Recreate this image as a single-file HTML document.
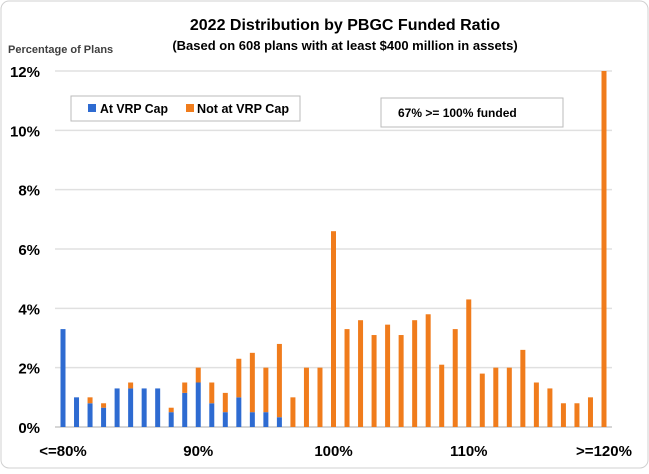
<!DOCTYPE html>
<html><head><meta charset="utf-8"><style>
body{margin:0;background:#fff;font-family:"Liberation Sans",sans-serif}
</style></head><body>
<svg width="649" height="469" xmlns="http://www.w3.org/2000/svg" font-family="Liberation Sans, sans-serif">
<rect x="1" y="1" width="647" height="467" rx="8" fill="#fff" stroke="#d0d0d0"/>
<text x="345" y="30" text-anchor="middle" font-size="16" font-weight="bold" fill="#000">2022 Distribution by PBGC Funded Ratio</text>
<text x="345" y="50" text-anchor="middle" font-size="13" font-weight="bold" fill="#000">(Based on 608 plans with at least $400 million in assets)</text>
<text x="8" y="53" font-size="11" font-weight="bold" fill="#404040">Percentage of Plans</text>
<g id="grid"></g><g id="bars"></g><g id="labels"></g>
<g>
<rect x="71" y="96" width="229" height="25" fill="#fff" stroke="#bbb"/>
<rect x="88" y="104" width="8" height="8" fill="#2e6bd1"/>
<text x="100" y="113" font-size="13" font-weight="bold" fill="#000" textLength="68" lengthAdjust="spacingAndGlyphs">At VRP Cap</text>
<rect x="186" y="104" width="8" height="8" fill="#f07c1c"/>
<text x="197" y="113" font-size="13" font-weight="bold" fill="#000" textLength="92" lengthAdjust="spacingAndGlyphs">Not at VRP Cap</text>
</g>
<rect x="381" y="98" width="182" height="29" fill="#fff" stroke="#bbb"/>
<text x="398" y="117" font-size="12" font-weight="bold" fill="#000">67% &gt;= 100% funded</text>
</svg>
<script>
const categories=["<=80%","81%","82%","83%","84%","85%","86%","87%","88%","89%","90%","91%","92%","93%","94%","95%","96%","97%","98%","99%","100%","101%","102%","103%","104%","105%","106%","107%","108%","109%","110%","111%","112%","113%","114%","115%","116%","117%","118%","119%",">=120%"];
const atCap=[3.3,1.0,0.8,0.65,1.3,1.3,1.3,1.3,0.5,1.15,1.5,0.8,0.5,1.0,0.5,0.5,0.33,0,0,0,0,0,0,0,0,0,0,0,0,0,0,0,0,0,0,0,0,0,0,0,0];
const notAtCap=[0,0,0.2,0.15,0,0.2,0,0,0.15,0.35,0.5,0.7,0.65,1.3,2.0,1.5,2.47,1.0,2.0,2.0,6.6,3.3,3.6,3.1,3.45,3.1,3.6,3.8,2.1,3.3,4.3,1.8,2.0,2.0,2.6,1.5,1.3,0.8,0.8,1.0,12.0];
const yTicks=[0,2,4,6,8,10,12];
const xLabelIdx=[0,10,20,30,40];
const NS="http://www.w3.org/2000/svg";
const x0=63,x1=604,yb=427,yt=71,maxV=12;
function xs(i){return x0+(x1-x0)*i/(categories.length-1);}
function ys(v){return yb-(yb-yt)*v/maxV;}
function mk(t,a,p){const e=document.createElementNS(NS,t);for(const k in a)e.setAttribute(k,a[k]);p.appendChild(e);return e;}
const g=document.getElementById('grid'),b=document.getElementById('bars'),l=document.getElementById('labels');
yTicks.forEach(v=>{
 const ln=mk('line',{x1:55,x2:612,y1:ys(v),y2:ys(v),stroke:v===0?'#c8c8c8':'#e0e0e0','stroke-width':1.5},g);
 
 
 const t=mk('text',{x:40,y:ys(v)+6,'text-anchor':'end','font-size':15,'font-weight':'bold',fill:'#000'},l);
 t.textContent=v+'%';
 
 
});
categories.forEach((c,i)=>{
 const x=xs(i)-2.5;
 if(atCap[i]>0){const r=mk('rect',{x:x,y:ys(atCap[i]),width:5,height:yb-ys(atCap[i]),fill:'#2e6bd1'},b);
 
 }
 if(notAtCap[i]>0){const top=ys(atCap[i]+notAtCap[i]),bot=ys(atCap[i]);const r=mk('rect',{x:x,y:top,width:5,height:bot-top,fill:'#f07c1c'},b);
 
 }
});
xLabelIdx.forEach(i=>{
 const t=mk('text',{x:xs(i),y:456,'text-anchor':'middle','font-size':15,'font-weight':'bold',fill:'#000'},l);
 t.textContent=categories[i];
 
 
});
</script>
</body></html>
